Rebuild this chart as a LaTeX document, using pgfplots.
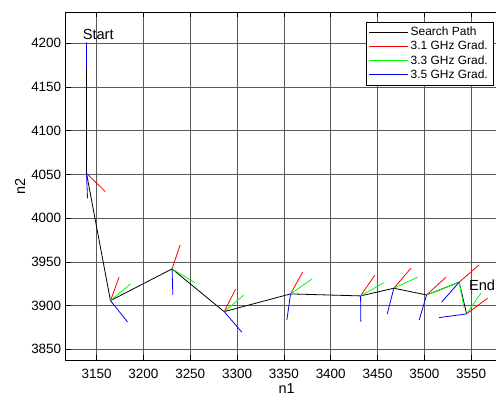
\documentclass[border=0pt]{standalone}
\usepackage{fontspec}
\setmainfont{Liberation Sans}
\usepackage{pgfplots}
\pgfplotsset{compat=1.18}
\begin{document}
\begin{tikzpicture}
\useasboundingbox (-65.7bp,-39bp) rectangle (430.3bp,360bp);
\begin{axis}[
  at={(0,0)}, anchor=south west,
  scale only axis, width=442bp, height=347.7bp,
  xmin=3117, xmax=3589, ymin=3837.8, ymax=4235.5,
  xtick={3150,3200,...,3550}, ytick={3850,3900,...,4200},
  /pgf/number format/assume math mode=true,
  /pgf/number format/1000 sep={},
  tick label style={font=\fontsize{13.5}{16}\selectfont},
  xticklabel style={yshift=-5.5bp},
  yticklabel style={xshift=-1bp},
  tick align=inside, major tick length=5bp,
  tick style={black, line width=0.6bp},
  axis line style={black, line width=0.7bp},
  grid=major, major grid style={black!65, line width=0.7bp},
  xlabel={n1}, ylabel={n2},
  every axis x label/.style={at={(axis description cs:0.5,-0.0834)}, anchor=center, font=\fontsize{14.5}{17}\selectfont},
  every axis y label/.style={at={(axis description cs:-0.1034,0.5)}, rotate=90, anchor=center, font=\fontsize{14.5}{17}\selectfont},
  unbounded coords=jump,
  legend style={at={(axis description cs:0.9667,0.9721)}, anchor=north east,
    font=\fontsize{12}{14}\selectfont, inner xsep=3bp, inner ysep=3bp,
    cells={anchor=west}, row sep=0pt},
  legend cell align=left,
]
% search path
\addplot[draw=black, line width=0.8bp,
  legend image code/.code={\draw[draw=black, line width=1bp] (0bp,0bp) -- (39bp,0bp);}] coordinates {
(3139.2,4200.8) (3139.2,4051.4) (3164.8,3905.7) (3230.6,3942.0) (3286.2,3893.1)
(3357.1,3913.4) (3431.9,3911.1) (3467.4,3919.9) (3502.4,3912.2) (3537.2,3926.8) (3545.1,3890.5)};
\addlegendentry{Search Path}
% 3.1 GHz gradient
\addplot[draw=red, line width=0.8bp,
  legend image code/.code={\draw[draw=red, line width=1bp] (0bp,0bp) -- (39bp,0bp);}] coordinates {
(3139.2,4051.4) (3159.3,4030.4) (nan,nan)
(3164.8,3905.7) (3174.0,3932.5) (nan,nan)
(3230.6,3942.0) (3239.2,3969.4) (nan,nan)
(3286.2,3893.1) (3298.4,3918.8) (nan,nan)
(3357.1,3913.4) (3369.9,3938.2) (nan,nan)
(3431.9,3911.1) (3447.1,3934.8) (nan,nan)
(3467.4,3919.9) (3485.6,3942.8) (nan,nan)
(3502.4,3912.2) (3523.0,3932.5) (nan,nan)
(3537.2,3926.8) (3558.5,3946.6) (nan,nan)
(3545.1,3890.5) (3567.5,3908.5)};
\addlegendentry{3.1 GHz Grad.}
% 3.3 GHz gradient
\addplot[draw=green, line width=0.8bp,
  legend image code/.code={\draw[draw=green, line width=1bp] (0bp,0bp) -- (39bp,0bp);}] coordinates {
(3164.8,3905.7) (3186.2,3924.8) (nan,nan)
(3230.6,3942.0) (3254.9,3926.3) (nan,nan)
(3286.2,3893.1) (3306.9,3911.9) (nan,nan)
(3357.1,3913.4) (3380.2,3930.5) (nan,nan)
(3431.9,3911.1) (3456.4,3926.0) (nan,nan)
(3467.4,3919.9) (3492.7,3932.5) (nan,nan)
(3502.4,3912.2) (3537.2,3926.8) (nan,nan)
(3537.2,3926.8) (3542.5,3897.0) (nan,nan)
(3545.1,3890.5) (3560.4,3914.2)};
\addlegendentry{3.3 GHz Grad.}
% 3.5 GHz gradient
\addplot[draw=blue, line width=0.8bp,
  legend image code/.code={\draw[draw=blue, line width=1bp] (0bp,0bp) -- (39bp,0bp);}] coordinates {
(3139.2,4200.8) (3139.2,4171.5) (nan,nan)
(3139.2,4051.4) (3140.3,4022.8) (nan,nan)
(3164.8,3905.7) (3183.0,3881.4) (nan,nan)
(3230.6,3942.0) (3231.4,3912.2) (nan,nan)
(3286.2,3893.1) (3305.1,3869.6) (nan,nan)
(3357.1,3913.4) (3353.2,3883.6) (nan,nan)
(3431.9,3911.1) (3432.2,3881.7) (nan,nan)
(3467.4,3919.9) (3460.3,3890.2) (nan,nan)
(3502.4,3912.2) (3494.5,3883.6) (nan,nan)
(3537.2,3926.8) (3518.4,3903.9) (nan,nan)
(3545.1,3890.5) (3515.8,3886.3)};
\addlegendentry{3.5 GHz Grad.}
\node[anchor=west, inner sep=0pt, font=\fontsize{14.7}{17}\selectfont] at (axis cs:3135,4210.6) {Start};
\node[anchor=west, inner sep=0pt, font=\fontsize{14.7}{17}\selectfont] at (axis cs:3547.5,3922.9) {End};
\end{axis}
\end{tikzpicture}
\end{document}
